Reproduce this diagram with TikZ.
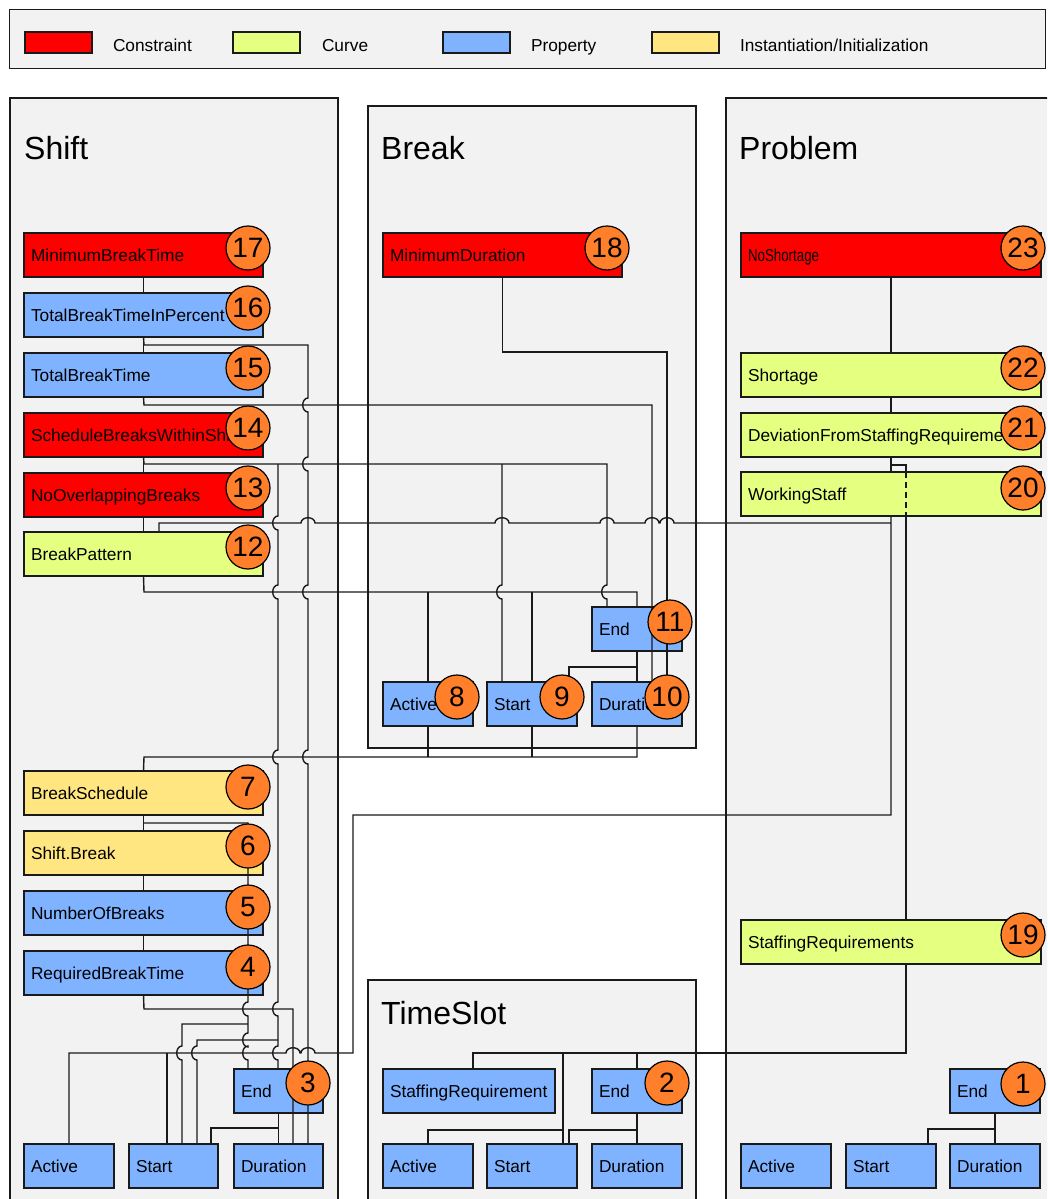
\documentclass[tikz,border=0pt]{standalone}
\usepackage{fontspec}
\usepackage{graphicx}
\setmainfont{Liberation Sans}
\definecolor{cred}{RGB}{255,0,0}
\definecolor{cgreen}{RGB}{229,255,128}
\definecolor{cblue}{RGB}{128,179,255}
\definecolor{cyellow}{RGB}{255,230,128}
\definecolor{corange}{RGB}{255,127,42}
\definecolor{cpanel}{RGB}{242,242,242}
\definecolor{cline}{RGB}{26,26,26}
\newcommand\hopv[2]{-- (#1,#2-7) .. controls (#1-7,#2-7) and (#1-7,#2+7) .. (#1,#2+7)}
\newcommand\hoph[2]{-- (#1-7,#2) .. controls (#1-7,#2-7) and (#1+7,#2-7) .. (#1+7,#2)}
\newcommand\mkbox[6]{%
  \node[#2, minimum width=#5pt] (#1) at (#3,#4) {};
  \node[txt] (#1t) at ([xshift=7pt,yshift=-6pt]#1.west) {#6};}
\tikzset{
  boxbase/.style={draw=cline, line width=1.2pt, anchor=north west, minimum height=44pt, inner sep=0pt, outer sep=0pt},
  cstr/.style={boxbase, fill=cred},
  crv/.style={boxbase, fill=cgreen},
  prp/.style={boxbase, fill=cblue},
  ins/.style={boxbase, fill=cyellow},
  txt/.style={anchor=base west, inner sep=0pt, outer sep=0pt, font=\fontsize{17.3}{20}\selectfont},
  ttl/.style={anchor=base west, inner sep=0pt, font=\fontsize{32}{36}\selectfont},
  num/.style={circle, draw=black, line width=1.2pt, fill=corange, minimum size=44pt, inner sep=0pt, font=\fontsize{28}{30}\selectfont},
  conn/.style={draw=cline, line width=1.4pt},
  panel/.style={draw=cline, fill=cpanel, line width=1.3pt}
}
\begin{document}
\begin{tikzpicture}[x=1pt,y=-1pt]
\useasboundingbox (0,0) rectangle (1047,1199);
\clip (0,0) rectangle (1047,1199);
\fill[white] (0,0) rectangle (1047,1199);

% legend
\node[panel, anchor=north west, minimum width=1036pt, minimum height=59pt, inner sep=0pt] (legend) at (9,9) {};
\node[cstr, minimum width=67pt, minimum height=21pt] (lg1) at (25,32) {};
\node[txt] (lg1t) at (113,52) {Constraint};
\node[crv, minimum width=67pt, minimum height=21pt] (lg2) at (233,32) {};
\node[txt] (lg2t) at (322,52) {Curve};
\node[prp, minimum width=67pt, minimum height=21pt] (lg3) at (443,32) {};
\node[txt] (lg3t) at (531,52) {Property};
\node[ins, minimum width=67pt, minimum height=21pt] (lg4) at (652,32) {};
\node[txt] (lg4t) at (740,52) {Instantiation/Initialization};

% panels
\draw[panel] (10,98) rectangle (338,1215);
\draw[panel] (368,106) rectangle (696,748);
\draw[panel] (726,98) rectangle (1060,1215);
\draw[panel] (368,980) rectangle (696,1215);
\node[ttl] (tShift) at (24,159) {Shift};
\node[ttl] (tBreak) at (381,159) {Break};
\node[ttl] (tProblem) at (739,159) {Problem};
\node[ttl] (tTimeSlot) at (381,1024) {TimeSlot};

% Shift boxes
\mkbox{s17}{cstr}{24}{233}{239}{MinimumBreakTime}
\mkbox{s16}{prp}{24}{293}{239}{TotalBreakTimeInPercent}
\mkbox{s15}{prp}{24}{353}{239}{TotalBreakTime}
\mkbox{s14}{cstr}{24}{413}{239}{ScheduleBreaksWithinShift}
\mkbox{s13}{cstr}{24}{473}{239}{NoOverlappingBreaks}
\mkbox{s12}{crv}{24}{532}{239}{BreakPattern}
\mkbox{s7}{ins}{24}{771}{239}{BreakSchedule}
\mkbox{s6}{ins}{24}{831}{239}{Shift.Break}
\mkbox{s5}{prp}{24}{891}{239}{NumberOfBreaks}
\mkbox{s4}{prp}{24}{951}{239}{RequiredBreakTime}
\mkbox{sEnd}{prp}{234}{1069}{89}{End}
\mkbox{sAct}{prp}{24}{1144}{90}{Active}
\mkbox{sSta}{prp}{129}{1144}{89}{Start}
\mkbox{sDur}{prp}{234}{1144}{89}{Duration}

% Break boxes
\mkbox{b18}{cstr}{383}{233}{239}{MinimumDuration}
\mkbox{bEnd}{prp}{592}{607}{90}{End}
\mkbox{bAct}{prp}{383}{682}{90}{Active}
\mkbox{bSta}{prp}{487}{682}{90}{Start}
\mkbox{bDur}{prp}{592}{682}{90}{Duration}

% Problem boxes
\mkbox{p23}{cstr}{741}{233}{300}{\scalebox{0.77}[1]{NoShortage}}
\mkbox{p22}{crv}{741}{353}{300}{Shortage}
\mkbox{p21}{crv}{741}{413}{300}{DeviationFromStaffingRequirements}
\mkbox{p20}{crv}{741}{472}{300}{WorkingStaff}
\mkbox{p19}{crv}{741}{920}{300}{StaffingRequirements}
\mkbox{pEnd}{prp}{950}{1069}{90}{End}
\mkbox{pAct}{prp}{741}{1144}{90}{Active}
\mkbox{pSta}{prp}{846}{1144}{90}{Start}
\mkbox{pDur}{prp}{950}{1144}{90}{Duration}

% TimeSlot boxes
\mkbox{tReq}{prp}{383}{1069}{172}{StaffingRequirement}
\mkbox{tEnd}{prp}{592}{1069}{90}{End}
\mkbox{tAct}{prp}{383}{1144}{90}{Active}
\mkbox{tSta}{prp}{487}{1144}{90}{Start}
\mkbox{tDur}{prp}{592}{1144}{90}{Duration}

% ---------- connectors ----------
% Shift chains
\draw[conn] (s17.south) -- (s16.north);
\draw[conn] (s16.south) -- (s15.north);
\draw[conn] (s14.south) -- (s13.north);
\draw[conn] (s13.south) -- (s12.north);
\draw[conn] (s7.south) -- (s6.north);
\draw[conn] (s6.south) -- (s5.north);
\draw[conn] (s5.south) -- (s4.north);

% 16 -> Shift.Duration
\draw[conn] (s16.south) -- (144,345) -- (308,345) \hopv{308}{405} \hopv{308}{464} \hopv{308}{592} \hopv{308}{757} -- (sDur.north -| 308,0);
% 15 -> Break.Duration
\draw[conn] (s15.south) -- (144,405) -- (652,405) -- (bDur.north -| 652,0);
% 18 -> Break.Duration
\draw[conn] (b18.south) -- (502.5,352) -- (667,352) -- (bDur.north -| 667,0);
% 14 -> Break.End, Break.Start, Shift.End, Shift.Start
\draw[conn] (s14.south) -- (144,464) -- (607,464) \hopv{607}{592} -- (bEnd.north -| 607,0);
\draw[conn] (502,464) \hopv{502}{592} -- (bSta.north -| 502,0);
\draw[conn] (278,464) \hopv{278}{523} \hopv{278}{592} \hopv{278}{757} \hopv{278}{1009} \hopv{278}{1053} -- (sEnd.north -| 278,0);
\draw[conn] (278,1040) -- (197,1040) \hopv{197}{1053} -- (sSta.north -| 197,0);
% 12 top -> WorkingStaff
\draw[conn] (s12.north -| 159,0) -- (159,523) \hoph{308}{523} \hoph{502}{523} \hoph{607}{523} \hoph{652}{523} \hoph{667}{523} -- (891,523);
% 12 bottom -> Break Active/Start/End
\draw[conn] (s12.south) -- (144,592) -- (637,592) -- (bEnd.north);
\draw[conn] (428,592) -- (bAct.north);
\draw[conn] (532,592) -- (bSta.north);
% Break End -> Duration, Start
\draw[conn] (bEnd.south) -- (bDur.north);
\draw[conn] (637,667) -- (569,667) -- (bSta.north -| 569,0);
% 7 top -> Break Active/Start/Duration
\draw[conn] (s7.north) -- (144,757) -- (637,757) -- (bDur.south);
\draw[conn] (428,757) -- (bAct.south);
\draw[conn] (532,757) -- (bSta.south);
% 7 -> Shift End / Start
\draw[conn] (144,823) -- (248,823) \hopv{248}{1009} \hopv{248}{1040} \hopv{248}{1053} -- (sEnd.north -| 248,0);
\draw[conn] (248,1024) -- (182,1024) \hopv{182}{1053} -- (sSta.north -| 182,0);
% 4 -> Shift.Duration
\draw[conn] (s4.south) -- (144,1009) -- (293,1009) -- (sDur.north -| 293,0);
% Shift End -> Duration, Start
\draw[conn] (sEnd.south) -- (sDur.north);
\draw[conn] (278.5,1128) -- (211,1128) -- (sSta.north -| 211,0);
% WorkingStaff -> Shift Active/Start
\draw[conn] (sAct.north) -- (69,1053) \hoph{293}{1053} \hoph{308}{1053} -- (353,1053) -- (353,815) -- (891,815) -- (p20.south);
\draw[conn] (167,1053) -- (sSta.north -| 167,0);

% Problem chain
\draw[conn] (p23.south) -- (p22.north);
\draw[conn] (p22.south) -- (p21.north);
\draw[conn] (p21.south) -- (p20.north);
\draw[conn] (p21.south) -- (891,465) -- (906,465) -- (p20.north -| 906,0);
\draw[conn, dash pattern=on 6pt off 4pt] (p20.north -| 906,0) -- (p20.south -| 906,0);
\draw[conn] (p20.south -| 906,0) -- (p19.north -| 906,0);
% StaffingRequirements -> TimeSlot
\draw[conn] (p19.south -| 906,0) -- (906,1053) -- (473,1053) -- (tReq.north -| 473,0);
\draw[conn] (563,1053) -- (tSta.north -| 563,0);
\draw[conn] (563,1130) -- (428,1130) -- (tAct.north);
\draw[conn] (637,1053) -- (tEnd.north);
\draw[conn] (tEnd.south) -- (tDur.north);
\draw[conn] (637,1130) -- (569,1130) -- (tSta.north -| 569,0);
% Problem End
\draw[conn] (pEnd.south) -- (pDur.north);
\draw[conn] (995,1129) -- (928,1129) -- (pSta.north -| 928,0);

% ---------- number circles ----------
\node[num] (c17) at (248,248) {17};
\node[num] (c16) at (248,308) {16};
\node[num] (c15) at (248,368) {15};
\node[num] (c14) at (248,428) {14};
\node[num] (c13) at (248,488) {13};
\node[num] (c12) at (248,547) {12};
\node[num] (c7) at (248,787) {7};
\node[num] (c6) at (248,846) {6};
\node[num] (c5) at (248,907) {5};
\node[num] (c4) at (248,967) {4};
\node[num] (c3) at (308,1083) {3};
\node[num] (c18) at (607,248) {18};
\node[num] (c11) at (670,622) {11};
\node[num] (c8) at (457,697) {8};
\node[num] (c9) at (562,697) {9};
\node[num] (c10) at (667,697) {10};
\node[num] (c23) at (1023,248) {23};
\node[num] (c22) at (1023,368) {22};
\node[num] (c21) at (1023,428) {21};
\node[num] (c20) at (1023,488) {20};
\node[num] (c19) at (1023,935) {19};
\node[num] (c1) at (1023,1084) {1};
\node[num] (c2) at (667,1083) {2};
\end{tikzpicture}
\end{document}
